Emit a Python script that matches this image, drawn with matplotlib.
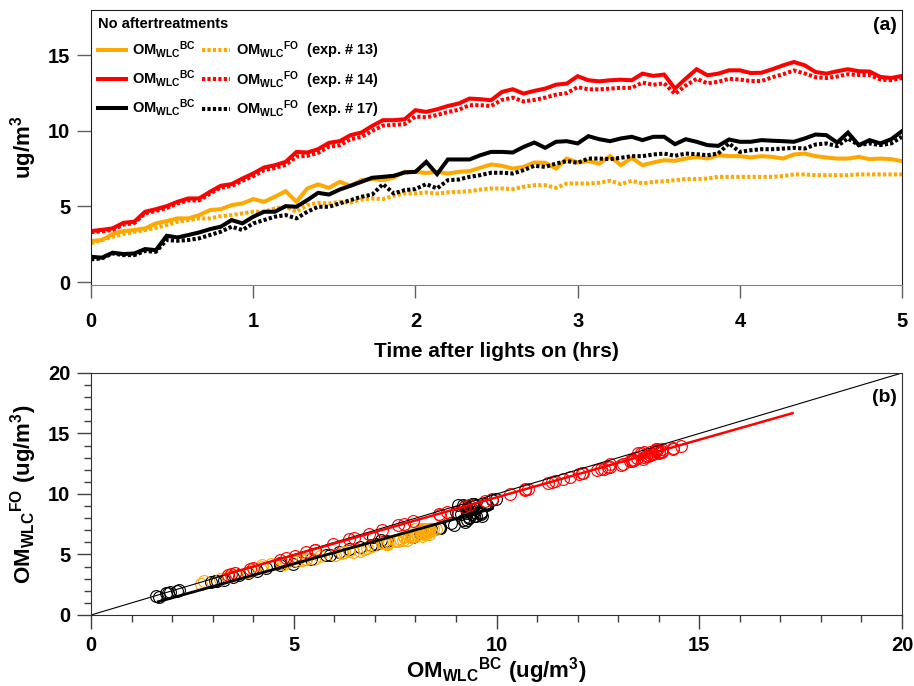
import numpy as np
import matplotlib
matplotlib.use("Agg")
import matplotlib.pyplot as plt

plt.rcParams['font.family'] = ['Liberation Sans', 'DejaVu Sans']
plt.rcParams['font.weight'] = 'bold'
plt.rcParams['axes.labelweight'] = 'bold'
plt.rcParams['mathtext.fontset'] = 'custom'
plt.rcParams['mathtext.rm'] = 'Liberation Sans:bold'
plt.rcParams['mathtext.it'] = 'Liberation Sans:bold'
plt.rcParams['mathtext.bf'] = 'Liberation Sans:bold'
plt.rcParams['mathtext.default'] = 'rm'

# samples every 4 min, 0 - 5 hrs
time_hrs = np.arange(76) / 15.0

# exp. # 13
bc13 = [2.71, 2.78, 3.17, 3.37, 3.44, 3.55, 3.88, 4.03, 4.21, 4.21,
        4.43, 4.76, 4.82, 5.09, 5.20, 5.49, 5.31, 5.64, 6.01, 5.31,
        6.19, 6.46, 6.23, 6.63, 6.37, 6.74, 6.81, 6.74, 6.92, 7.29,
        7.29, 7.22, 7.29, 7.18, 7.29, 7.34, 7.56, 7.78, 7.69, 7.51,
        7.62, 7.91, 7.89, 7.51, 8.17, 7.91, 8.00, 7.84, 8.33, 7.73,
        8.22, 7.73, 7.91, 8.06, 8.02, 8.17, 8.28, 8.17, 8.39, 8.33,
        8.33, 8.24, 8.33, 8.28, 8.17, 8.44, 8.50, 8.33, 8.24, 8.17,
        8.17, 8.28, 8.13, 8.17, 8.13, 8.00]
fo13 = [2.56, 2.78, 3.00, 3.17, 3.33, 3.44, 3.59, 3.77, 3.99, 4.10,
        4.21, 4.21, 4.36, 4.43, 4.54, 4.65, 4.65, 4.87, 4.98, 4.65,
        5.09, 5.24, 5.20, 5.31, 5.26, 5.46, 5.53, 5.49, 5.71, 5.86,
        5.86, 5.93, 5.86, 5.93, 5.97, 6.01, 6.12, 6.19, 6.19, 6.15,
        6.30, 6.41, 6.41, 6.23, 6.52, 6.52, 6.52, 6.57, 6.70, 6.48,
        6.70, 6.52, 6.63, 6.67, 6.74, 6.81, 6.81, 6.85, 6.96, 6.96,
        6.96, 6.96, 6.96, 6.96, 7.01, 7.12, 7.12, 7.07, 7.07, 7.07,
        7.07, 7.12, 7.12, 7.12, 7.12, 7.12]

# exp. # 14
bc14 = [3.37, 3.45, 3.55, 3.92, 3.99, 4.65, 4.82, 5.02, 5.31, 5.53,
        5.53, 5.97, 6.37, 6.48, 6.85, 7.18, 7.58, 7.73, 7.95, 8.61,
        8.57, 8.79, 9.21, 9.32, 9.72, 9.89, 10.33, 10.71, 10.71, 10.77,
        11.37, 11.26, 11.43, 11.65, 11.81, 12.14, 12.10, 12.03, 12.58, 12.76,
        12.47, 12.65, 12.80, 13.06, 13.13, 13.62, 13.35, 13.28, 13.35, 13.39,
        13.35, 13.79, 13.64, 13.73, 12.80, 13.46, 14.08, 13.68, 13.79, 14.01,
        14.01, 13.83, 13.85, 14.08, 14.34, 14.56, 14.34, 13.90, 13.79, 13.95,
        14.08, 13.95, 13.93, 13.57, 13.50, 13.64]
fo14 = [3.30, 3.35, 3.45, 3.80, 3.90, 4.55, 4.70, 4.90, 5.20, 5.40,
        5.40, 5.85, 6.25, 6.35, 6.70, 7.00, 7.40, 7.55, 7.75, 8.30,
        8.35, 8.55, 8.95, 9.05, 9.45, 9.60, 10.00, 10.35, 10.40, 10.45,
        10.95, 10.90, 11.05, 11.25, 11.40, 11.70, 11.70, 11.65, 12.05, 12.20,
        11.95, 12.05, 12.20, 12.40, 12.50, 12.90, 12.75, 12.75, 12.80, 12.85,
        12.85, 13.20, 13.05, 13.15, 12.45, 13.00, 13.45, 13.15, 13.25, 13.45,
        13.40, 13.30, 13.30, 13.55, 13.75, 14.00, 13.80, 13.55, 13.50, 13.60,
        13.75, 13.70, 13.70, 13.40, 13.35, 13.50]

# exp. # 17
bc17 = [1.67, 1.61, 1.94, 1.85, 1.89, 2.18, 2.11, 3.06, 2.95, 3.11,
        3.28, 3.50, 3.66, 4.10, 3.88, 4.32, 4.65, 4.65, 5.02, 4.98,
        5.42, 5.90, 5.79, 6.12, 6.37, 6.63, 6.90, 6.96, 7.03, 7.25,
        7.29, 7.95, 7.14, 8.11, 8.11, 8.11, 8.39, 8.61, 8.61, 8.57,
        8.94, 9.23, 8.88, 9.28, 9.32, 9.17, 9.65, 9.45, 9.32, 9.50,
        9.61, 9.39, 9.61, 9.61, 9.12, 9.45, 9.28, 9.06, 9.01, 9.43,
        9.28, 9.28, 9.39, 9.35, 9.32, 9.28, 9.50, 9.76, 9.72, 9.23,
        9.89, 9.06, 9.39, 9.17, 9.45, 9.98]
fo17 = [1.50, 1.56, 1.89, 1.78, 1.78, 2.05, 2.00, 2.78, 2.73, 2.78,
        2.89, 3.11, 3.33, 3.66, 3.44, 3.88, 4.10, 4.32, 4.43, 4.21,
        4.65, 4.98, 4.98, 5.20, 5.42, 5.64, 5.79, 6.48, 5.86, 6.08,
        6.15, 6.48, 6.19, 6.74, 6.78, 6.96, 7.07, 7.23, 7.23, 7.18,
        7.40, 7.69, 7.62, 7.84, 8.00, 7.89, 8.17, 8.17, 8.13, 8.22,
        8.33, 8.33, 8.44, 8.50, 8.35, 8.50, 8.46, 8.39, 8.50, 9.17,
        8.61, 8.72, 8.79, 8.79, 8.83, 8.88, 8.83, 9.10, 9.17, 8.99,
        9.50, 9.06, 9.17, 9.06, 9.17, 9.61]

# fitted lines in panel (b): x ends, slope, intercept
fit14_x = [3.3, 17.3]
fit14_coef = (0.953, 0.19)
fit17_x = [1.66, 9.9]
fit17_coef = (0.935, -0.45)
one_to_one = [0, 20]

ORANGE = '#FFA800'
RED = '#FF0000'
BLACK = '#000000'
DOT = (0, (0.8, 0.55))

experiments = [('13', bc13, fo13, ORANGE), ('14', bc14, fo14, RED), ('17', bc17, fo17, BLACK)]

BC_LAB = r'$\mathrm{OM}_{\mathrm{WLC}}{}^{\mathrm{BC}}$'
FO_LAB = r'$\mathrm{OM}_{\mathrm{WLC}}{}^{\mathrm{FO}}$'

fig = plt.figure(figsize=(9.14, 6.86), dpi=100)

# ---- panel (a): time series
ax1 = fig.add_axes([0.0996, 0.5845, 0.8873, 0.4009])
bc_handles, fo_handles = [], []
for exp, bc, fo, col in experiments:
  h1, = ax1.plot(time_hrs, bc, color=col, lw=2.9, solid_joinstyle='miter')
  h2, = ax1.plot(time_hrs, fo, color=col, lw=2.9, linestyle=DOT)
  bc_handles.append(h1)
  fo_handles.append(h2)

ax1.set_xlim(0, 5)
ax1.set_ylim(-0.2, 18)
ax1.set_xticks([0, 1, 2, 3, 4, 5])
ax1.set_yticks([0, 5, 10, 15])
ax1.tick_params(axis='x', length=9.5, width=1, color='#606060', labelsize=14.5, pad=10)
ax1.tick_params(axis='y', length=10, width=1, color='#606060', labelsize=14.5, pad=5)
for s in ['top', 'right', 'left']:
  ax1.spines[s].set_color('#202020')
ax1.spines['bottom'].set_color('#808080')
ax1.set_xlabel('Time after lights on (hrs)', fontsize=15, labelpad=8)
ax1.set_ylabel(r'$\mathrm{ug/m}^{3}$', fontsize=16, labelpad=6)
ax1.text(0.994, 0.945, '(a)', transform=ax1.transAxes, ha='right', va='center', fontsize=14)

labels = [BC_LAB] * 3 + [FO_LAB + '  (exp. # %s)' % e for e, _, _, _ in experiments]
leg = ax1.legend(bc_handles + fo_handles, labels, ncol=2, loc='upper left',
                 bbox_to_anchor=(0, 1), borderaxespad=0.2, borderpad=0.3,
                 title='No aftertreatments', alignment='left', frameon=False,
                 fontsize=10.5, title_fontsize=10.5, handlelength=1.9,
                 handletextpad=0.4, columnspacing=0.45, labelspacing=0.55)
leg.get_title().set_fontweight('bold')

# ---- panel (b): FO vs BC scatter
ax2 = fig.add_axes([0.0996, 0.1035, 0.8873, 0.3528])
for exp, bc, fo, col in [experiments[2], experiments[0], experiments[1]]:
  ax2.plot(bc, fo, linestyle='none', marker='o', ms=8.5, mfc='none', mec=col, mew=0.8)
ax2.plot(one_to_one, one_to_one, color='black', lw=0.8)
fx = np.array(fit17_x)
ax2.plot(fx, fit17_coef[0] * fx + fit17_coef[1], color='black', lw=2)
fx = np.array(fit14_x)
ax2.plot(fx, fit14_coef[0] * fx + fit14_coef[1], color=RED, lw=1.8)

ax2.set_xlim(0, 20)
ax2.set_ylim(0, 20)
ax2.set_xticks([0, 5, 10, 15, 20])
ax2.set_yticks([0, 5, 10, 15, 20])
ax2.set_xticks(range(0, 21), minor=True)
ax2.set_yticks(range(0, 21), minor=True)
ax2.tick_params(which='major', length=10, width=1, color='#404040', labelsize=14.5)
ax2.tick_params(which='minor', length=5, width=1, color='#404040')
ax2.tick_params(axis='x', which='major', pad=5)
ax2.tick_params(axis='y', which='major', pad=5)
for s in ax2.spines.values():
  s.set_color('#303030')
ax2.set_xlabel(r'$\mathrm{OM}_{\mathrm{WLC}}{}^{\mathrm{BC}}\ \mathrm{(ug/m}^{3}\mathrm{)}$', fontsize=16, labelpad=0)
ax2.set_ylabel(r'$\mathrm{OM}_{\mathrm{WLC}}{}^{\mathrm{FO}}\ \mathrm{(ug/m}^{3}\mathrm{)}$', fontsize=16, labelpad=6)
ax2.text(0.994, 0.90, '(b)', transform=ax2.transAxes, ha='right', va='center', fontsize=14)

fig.savefig('out.png', dpi=100)
